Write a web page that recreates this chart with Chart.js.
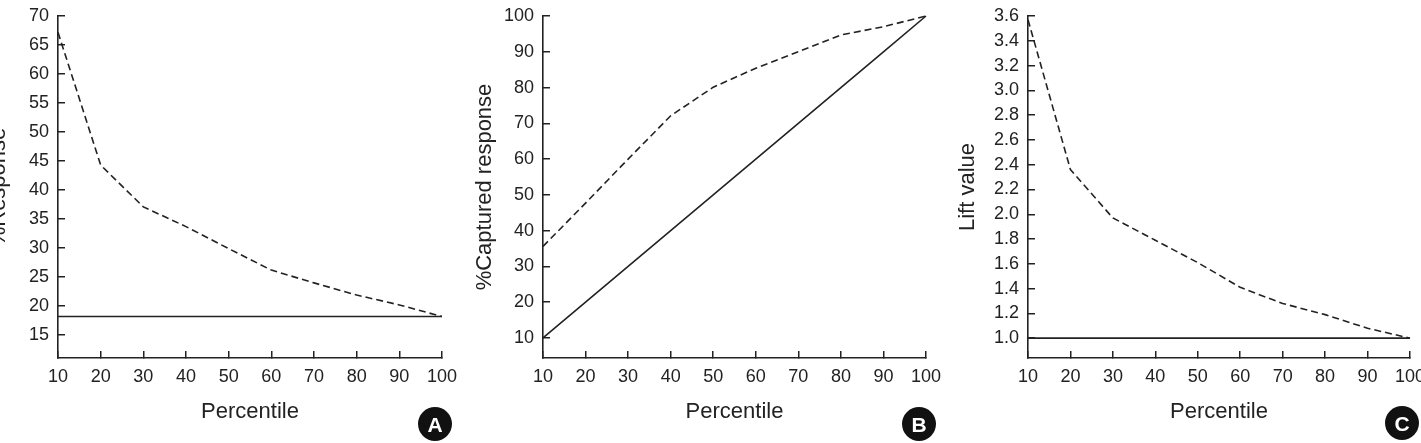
<!DOCTYPE html>
<html>
<head>
<meta charset="utf-8">
<script src="https://cdn.jsdelivr.net/npm/chart.js@4.4.1/dist/chart.umd.min.js"></script>
<style>
html, body { margin: 0; padding: 0; background: #fff; overflow: hidden; width: 1421px; height: 443px; position: relative; }
.panel { position: absolute; top: 0; height: 443px; }
.badge { position: absolute; width: 34px; height: 34px; border-radius: 50%; background: #111; color: #fff;
  font: bold 21px 'Liberation Sans', Arial, sans-serif; text-align: center; line-height: 35px; }
</style>
</head>
<body>
<div class="panel" style="left:-20px; width:482px"><canvas id="chartA"></canvas></div>
<div class="panel" style="left:466px; width:480px"><canvas id="chartB"></canvas></div>
<div class="panel" style="left:949px; width:481px"><canvas id="chartC"></canvas></div>
<div class="badge" style="left:418px; top:407px">A</div>
<div class="badge" style="left:902px; top:407px">B</div>
<div class="badge" style="left:1385px; top:406px">C</div>
<script>
// x categories (percentile)
const percentile = [10, 20, 30, 40, 50, 60, 70, 80, 90, 100];

// A - %Response
const responseModel = [67.2, 44.3, 37.1, 33.7, 29.9, 26.2, 24.0, 21.9, 20.2, 18.2];
const responseBase = [18.2, 18.2, 18.2, 18.2, 18.2, 18.2, 18.2, 18.2, 18.2, 18.2];

// B - %Captured response
const capturedModel = [35.6, 47.7, 60.0, 72.1, 80.1, 85.4, 90.0, 94.7, 97.0, 100];
const capturedBase = [10, 20, 30, 40, 50, 60, 70, 80, 90, 100];

// C - Lift value
const liftModel = [3.57, 2.36, 1.97, 1.79, 1.61, 1.41, 1.28, 1.19, 1.08, 1.0];
const liftBase = [1.0, 1.0, 1.0, 1.0, 1.0, 1.0, 1.0, 1.0, 1.0, 1.0];

const ink = '#222';
const tickFont = { family: "'Liberation Sans', Arial, sans-serif", size: 18 };
const titleFont = { family: "'Liberation Sans', Arial, sans-serif", size: 22 };

function buildChart(id, model, base, yMin, yMax, yStep, yTitle, yWidth, fmt) {
    return new Chart(document.getElementById(id), {
        type: 'line',
        data: {
            datasets: [
                {
                    data: percentile.map((p, i) => ({ x: p, y: model[i] })),
                    borderColor: ink,
                    borderWidth: 1.6,
                    borderDash: [7, 4], // modelo tracejado
                    pointRadius: 0,
                    tension: 0,
                    clip: false
                },
                {
                    data: percentile.map((p, i) => ({ x: p, y: base[i] })),
                    borderColor: ink,
                    borderWidth: 1.6,
                    pointRadius: 0,
                    tension: 0,
                    clip: false
                }
            ]
        },
        options: {
            responsive: true,
            maintainAspectRatio: false,
            animation: false,
            layout: { padding: { left: 0, top: 16, right: 20, bottom: 0 } },
            plugins: {
                legend: { display: false },
                tooltip: { enabled: false }
            },
            scales: {
                x: {
                    type: 'linear',
                    min: 10,
                    max: 100,
                    ticks: { stepSize: 10, padding: 15, color: ink, font: tickFont, autoSkip: false, maxRotation: 0 },
                    grid: { drawOnChartArea: false, tickLength: -7, color: ink, lineWidth: 1.5 },
                    border: { color: ink, width: 1.6 },
                    title: { display: true, text: 'Percentile', color: ink, font: titleFont, padding: { top: 0, bottom: 18 } },
                    afterFit: s => { s.height = 85; s.paddingLeft = 0; s.paddingRight = 0; }
                },
                y: {
                    min: yMin,
                    max: yMax,
                    ticks: { stepSize: yStep, includeBounds: false, padding: 16, color: ink, font: tickFont, autoSkip: false, callback: fmt },
                    grid: { drawOnChartArea: false, tickLength: -7, color: ink, lineWidth: 1.5 },
                    border: { color: ink, width: 1.6 },
                    title: { display: true, text: yTitle, color: ink, font: titleFont, padding: { top: 6, bottom: 0 } },
                    afterFit: s => { s.width = yWidth; s.paddingTop = 0; s.paddingBottom = 0; }
                }
            }
        }
    });
}

buildChart('chartA', responseModel, responseBase, 11.05, 70, 5, '%Response', 78, v => v);
buildChart('chartB', capturedModel, capturedBase, 4.4, 100, 10, '%Captured response', 77, v => v);
buildChart('chartC', liftModel, liftBase, 0.84, 3.6, 0.2, 'Lift value', 79, v => v.toFixed(1));
</script>
</body>
</html>
